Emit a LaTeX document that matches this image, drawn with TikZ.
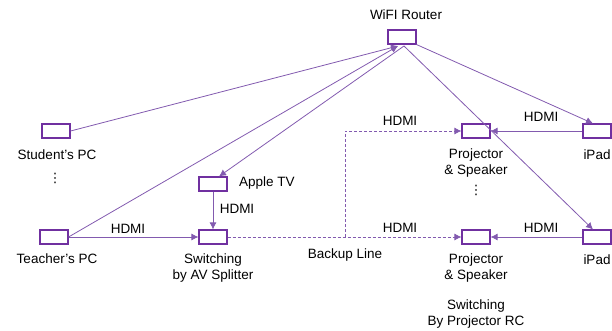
\documentclass[tikz,border=0pt]{standalone}
\usepackage{fontspec}
\setmainfont{Liberation Sans}
\newfontfamily\dvsfont{DejaVu Sans}
\usetikzlibrary{arrows.meta}
\definecolor{pur}{RGB}{112,48,160}
\definecolor{pline}{RGB}{130,90,175}
\begin{document}
\begin{tikzpicture}[x=1pt,y=-1pt,
  dev/.style={draw=pur,line width=1.1pt,minimum width=28pt,minimum height=14pt,inner sep=0pt},
  lab/.style={font=\fontsize{13.5}{16.5}\selectfont,align=center,inner sep=0pt},
  vdot/.style={font=\dvsfont\fontsize{13}{15}\selectfont,inner sep=0pt},
  conn/.style={draw=pline,line width=0.8pt},
  tip/.style={-{Latex[length=7pt,width=7pt]}},
  dsh/.style={draw=pline,line width=0.8pt,dash pattern=on 3pt off 2pt}]
\useasboundingbox (0,0) rectangle (612,331);
% devices
\node[dev] (router) at (402,37) {};
\node[dev] (spc) at (56,131) {};
\node[dev] (tpc) at (54,237) {};
\node[dev] (atv) at (213,184) {};
\node[dev] (sw) at (213,237) {};
\node[dev] (pj1) at (476,131) {};
\node[dev] (ip1) at (597,131) {};
\node[dev] (pj2) at (476,237) {};
\node[dev] (ip2) at (597,237) {};
% labels
\node[lab] (lrouter) at (406,15) {WiFI Router};
\node[lab] (lspc) at (57,155) {Student’s PC};
\node[vdot] (dots1) at (55,178) {⋮};
\node[lab] (ltpc) at (57,259) {Teacher’s PC};
\node[lab,anchor=west] (latv) at (239,183) {Apple TV};
\node[lab] (h1) at (128,229) {HDMI};
\node[lab] (h2) at (237,209) {HDMI};
\node[lab] (lsw) at (213,268) {Switching\\by AV Splitter};
\node[lab] (lbk) at (345,255) {Backup Line};
\node[lab] (h3) at (400,121) {HDMI};
\node[lab] (h4) at (400,228) {HDMI};
\node[lab] (h5) at (541,117) {HDMI};
\node[lab] (h6) at (541,228) {HDMI};
\node[lab] (lpj1) at (476,163) {Projector\\\& Speaker};
\node[vdot] (dots2) at (476,190) {⋮};
\node[lab] (lpj2) at (476,268) {Projector\\\& Speaker};
\node[lab] (lip1) at (597,155) {iPad};
\node[lab] (lip2) at (597,260) {iPad};
\node[lab] (lrc) at (476,314) {Switching\\By Projector RC};
% connectors
\coordinate (rin) at (398,46);
\coordinate (rout) at (404,46);
\draw[conn,tip] (spc.east) -- (rin);
\draw[conn,tip] (tpc.east) -- (rin);
\draw[conn,tip] (rout) -- ([xshift=6pt]atv.north);
\draw[conn,tip] (router.south east) -- ([xshift=-4pt]ip1.north);
\draw[conn,tip] (rout) -- ([xshift=-4pt]ip2.north);
\draw[conn,tip] (ip1.west) -- (pj1.east);
\draw[conn,tip] (ip2.west) -- (pj2.east);
\draw[conn,tip] (atv.south) -- (sw.north);
\draw[conn,tip] (tpc.east) -- (sw.west);
\draw[dsh,tip] (sw.east) -- (pj2.west);
\coordinate (bk) at (345,237);
\draw[dsh,tip] (bk) |- (pj1.west);
\end{tikzpicture}
\end{document}
